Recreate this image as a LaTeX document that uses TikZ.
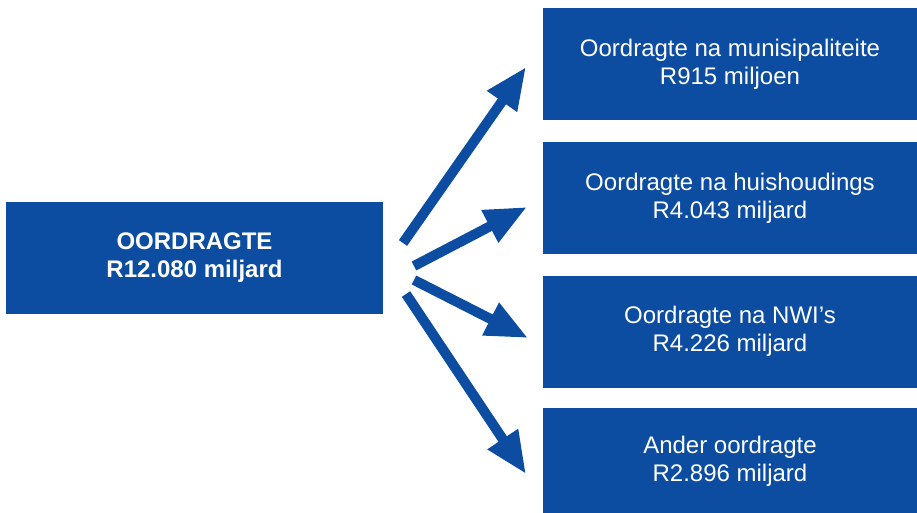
\documentclass[tikz,border=0pt]{standalone}
\usepackage{fontspec}
\setmainfont{Liberation Sans}
\usetikzlibrary{arrows.meta}
\definecolor{boxblue}{HTML}{0D4DA1}
\begin{document}
\begin{tikzpicture}[x=1pt,y=-1pt,
  box/.style={fill=boxblue,text=white,inner sep=0pt,align=center,font=\fontsize{24}{28}\selectfont},
  bigarrow/.style={draw=boxblue,line width=10pt,line cap=butt,-{Triangle[length=42pt,width=34pt]}}]
\useasboundingbox (0,0) rectangle (917,513);
\node[box,minimum width=377pt,minimum height=112pt,font=\bfseries\fontsize{24}{28}\selectfont] (main) at (194.5,258) {OORDRAGTE\\R12.080 miljard};
\node[box,minimum width=374pt,minimum height=112pt] (b1) at (730,64) {Oordragte na munisipaliteite\\R915 miljoen};
\node[box,minimum width=374pt,minimum height=112pt] (b2) at (730,198) {Oordragte na huishoudings\\R4.043 miljard};
\node[box,minimum width=374pt,minimum height=112pt] (b3) at (730,331.5) {Oordragte na NWI’s\\R4.226 miljard};
\node[box,minimum width=374pt,minimum height=106pt] (b4) at (730,461) {Ander oordragte\\R2.896 miljard};
\coordinate (s1) at (403,243);
\coordinate (e1) at (526,67);
\coordinate (s2) at (414,266);
\coordinate (e2) at (527,207);
\coordinate (s3) at (414,280);
\coordinate (e3) at (528,338);
\coordinate (s4) at (406,294);
\coordinate (e4) at (526,474);
\draw[bigarrow] (s1) -- (e1);
\draw[bigarrow] (s2) -- (e2);
\draw[bigarrow] (s3) -- (e3);
\draw[bigarrow] (s4) -- (e4);
\end{tikzpicture}
\end{document}
